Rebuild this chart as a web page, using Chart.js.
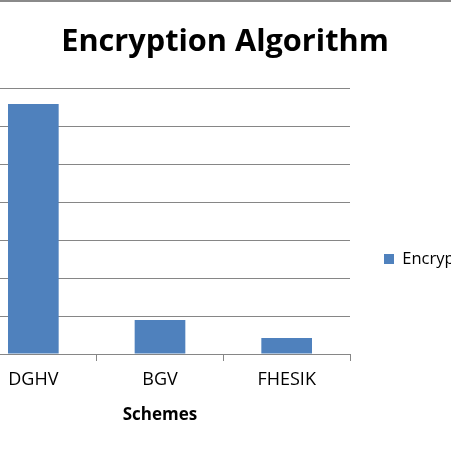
<!DOCTYPE html>
<html>
<head>
<meta charset="utf-8">
<script src="https://cdn.jsdelivr.net/npm/chart.js@4.4.1/dist/chart.umd.min.js"></script>
<style>
  html, body { margin: 0; padding: 0; background: #fff; overflow: hidden; width: 451px; height: 451px; }
  #topline { position: absolute; left: 0; top: 0; width: 451px; height: 2px; background: #8a8a8a; z-index: 2; }
  #wrap { position: absolute; left: -40px; top: 0; width: 530px; height: 518px; }
</style>
</head>
<body>
<div id="topline"></div>
<div id="wrap"><canvas id="chart"></canvas></div>
<script>
// data (y labels are cut off in the source, so units are a guess)
const schemes = ['DGHV', 'BGV', 'FHESIK'];
const encryptionValues = [6.6, 0.9, 0.42];
const seriesName = 'Encryption Algorithm';

const font = '"Open Sans", "Noto Sans", sans-serif';
const gridGray = '#868686';

new Chart(document.getElementById('chart').getContext('2d'), {
  type: 'bar',
  data: {
    labels: schemes,
    datasets: [{
      label: seriesName,
      data: encryptionValues,
      backgroundColor: '#4f81bd',
      borderWidth: 0,
      barPercentage: 0.8,
      categoryPercentage: 0.5
    }]
  },
  options: {
    responsive: true,
    maintainAspectRatio: false,
    animation: false,
    layout: { padding: 0 },
    plugins: {
      title: {
        display: true,
        text: 'Encryption Algorithm',
        color: '#000',
        font: { family: font, size: 30.7, weight: 'bold' },
        padding: { top: 24, bottom: 28 }
      },
      legend: {
        position: 'right',
        maxWidth: 140,
        labels: {
          boxWidth: 10,
          boxHeight: 10,
          padding: 34,
          color: '#000',
          font: { family: font, size: 16.5 }
        }
      },
      tooltip: { enabled: false }
    },
    scales: {
      y: {
        min: 0,
        max: 7,
        ticks: { stepSize: 1, display: false },
        grid: { color: gridGray, drawTicks: false },
        border: { display: false },
        afterFit: (scale) => { scale.width = 10; }
      },
      x: {
        grid: { drawOnChartArea: false, color: gridGray, tickLength: 7 },
        border: { color: gridGray },
        ticks: { color: '#000', padding: 8, font: { family: font, size: 18 } },
        title: {
          display: true,
          text: 'Schemes',
          color: '#000',
          font: { family: font, size: 17, weight: 'bold' },
          padding: { top: 6, bottom: 93 }
        }
      }
    }
  }
});
</script>
</body>
</html>
